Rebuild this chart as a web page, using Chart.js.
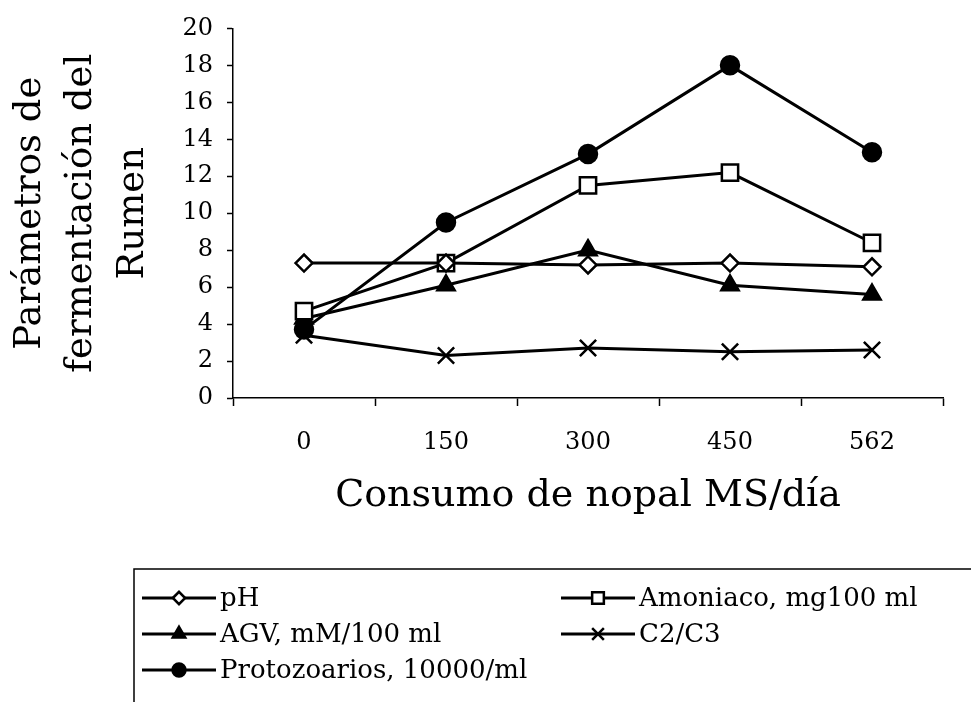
<!DOCTYPE html>
<html>
<head>
<meta charset="utf-8">
<script src="https://cdn.jsdelivr.net/npm/chart.js@4/dist/chart.umd.min.js"></script>
<style>
  html, body { margin: 0; padding: 0; background: #fff; }
  #wrap { width: 971px; height: 702px; }
</style>
</head>
<body>
<div id="wrap"><canvas id="c" width="971" height="702"></canvas></div>
<script>
// Consumo de nopal (g MS/día) and rumen fermentation parameters
const categories = ['0', '150', '300', '450', '562'];
const phValues = [7.3, 7.3, 7.2, 7.3, 7.1];
const amoniacoValues = [4.7, 7.3, 11.5, 12.2, 8.4];
const agvValues = [4.3, 6.1, 8.0, 6.1, 5.6];
const c2c3Values = [3.4, 2.3, 2.7, 2.5, 2.6];
const protozoariosValues = [3.7, 9.5, 13.2, 18.0, 13.3];

const seriesNames = ['pH', 'Amoniaco, mg100 ml', 'AGV, mM/100 ml', 'C2/C3', 'Protozoarios, 10000/ml'];
const yTickValues = [0, 2, 4, 6, 8, 10, 12, 14, 16, 18, 20];

const SERIF = "'DejaVu Serif', 'Liberation Serif', serif";
const INK = '#000';

function series(label, data, style, radius, fill) {
  return {
    label, data,
    borderColor: INK, borderWidth: 3,
    pointStyle: style, pointRadius: radius, pointHoverRadius: radius,
    pointBackgroundColor: fill, pointBorderColor: INK, pointBorderWidth: 2.5,
    tension: 0, fill: false
  };
}

const datasets = [
  series(seriesNames[0], phValues, 'rectRot', 8.5, '#fff'),
  series(seriesNames[1], amoniacoValues, 'rect', 11.5, '#fff'),
  series(seriesNames[2], agvValues, 'triangle', 10, INK),
  series(seriesNames[3], c2c3Values, 'crossRot', 11.5, INK),
  series(seriesNames[4], protozoariosValues, 'circle', 9, INK)
];

// Boxed legend under the plot: line sample with marker, then the label
const boxedLegend = {
  id: 'boxedLegend',
  afterDraw(chart) {
    const ctx = chart.ctx;
    const top = 569;
    ctx.save();
    ctx.strokeStyle = INK;
    ctx.lineWidth = 1.5;
    ctx.strokeRect(134, top, 900, 200);
    const slots = [
      [142, 598], [561, 598],
      [142, 634], [561, 634],
      [142, 670]
    ];
    ctx.font = '26px ' + SERIF;
    ctx.textBaseline = 'middle';
    ctx.textAlign = 'left';
    chart.data.datasets.forEach((ds, i) => {
      const [x, y] = slots[i];
      ctx.beginPath();
      ctx.strokeStyle = INK;
      ctx.lineWidth = 3;
      ctx.moveTo(x, y);
      ctx.lineTo(x + 74, y);
      ctx.stroke();
      ctx.fillStyle = ds.pointBackgroundColor;
      ctx.strokeStyle = INK;
      ctx.lineWidth = 2.5;
      Chart.helpers.drawPoint(ctx, {
        pointStyle: ds.pointStyle,
        radius: ds.pointRadius * 0.72,
        borderWidth: 2.5
      }, x + 37, y);
      ctx.fillStyle = INK;
      ctx.fillText(ds.label, x + 78, y + 1);
    });
    ctx.restore();
  }
};

new Chart(document.getElementById('c'), {
  type: 'line',
  data: { labels: categories, datasets },
  options: {
    responsive: false,
    animation: false,
    events: [],
    layout: { padding: { left: 0, top: 28, right: 28, bottom: 169 } },
    plugins: { legend: { display: false }, tooltip: { enabled: false } },
    scales: {
      x: {
        type: 'category',
        offset: true,
        afterFit(scale) { scale.height = 135; },
        grid: { offset: true, drawOnChartArea: false, tickLength: 8, color: INK, tickWidth: 1.5 },
        border: { display: true, color: INK, width: 1.5 },
        ticks: { color: INK, font: { family: SERIF, size: 24 }, padding: 22 },
        title: {
          display: true, text: 'Consumo de nopal MS/día', color: INK,
          font: { family: SERIF, size: 38, lineHeight: 1.2 },
          padding: { top: 0, bottom: 14 }
        }
      },
      y: {
        min: 0, max: 20,
        afterFit(scale) { scale.width = 233; },
        afterBuildTicks(scale) { scale.ticks = yTickValues.map(v => ({ value: v })); },
        grid: { drawOnChartArea: false, tickLength: 6, color: INK, tickWidth: 1.5 },
        border: { display: true, color: INK, width: 1.5 },
        ticks: { color: INK, font: { family: SERIF, size: 24 }, padding: 14 },
        title: {
          display: true, text: ['Parámetros de', 'fermentación del', 'Rumen'], color: INK,
          font: { family: SERIF, size: 37, lineHeight: 1.4 },
          padding: { top: 4, bottom: 0 }
        }
      }
    }
  },
  plugins: [boxedLegend]
});
</script>
</body>
</html>
